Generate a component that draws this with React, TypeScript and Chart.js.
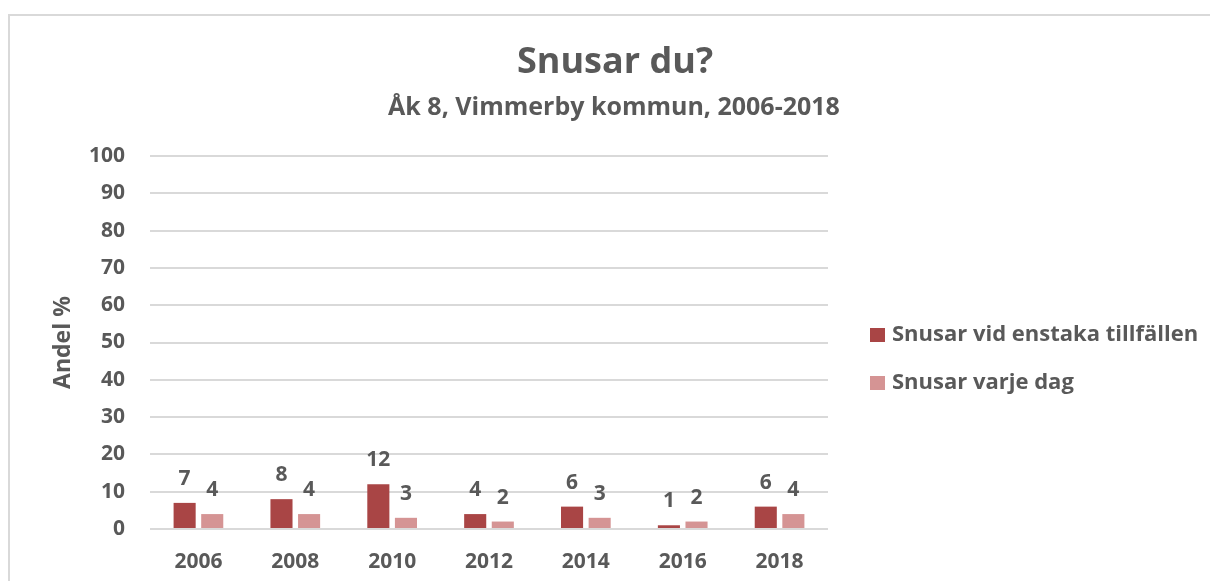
import React, { useEffect, useRef } from "react";
import { Chart, registerables } from "chart.js";

Chart.register(...registerables);

const categories = ["2006", "2008", "2010", "2012", "2014", "2016", "2018"];
const occasional = [7, 8, 12, 4, 6, 1, 6];
const daily = [4, 4, 3, 2, 3, 2, 4];
const seriesNames = ["Snusar vid enstaka tillfällen", "Snusar varje dag"];
const seriesColors = ["#A94545", "#D59494"];
const chartTitle = "Snusar du?";
const chartSubtitle = "Åk 8, Vimmerby kommun, 2006-2018";
const yAxisTitle = "Andel %";
const yMin = 0;
const yMax = 100;
const yStep = 10;

const FONT = "'Open Sans', sans-serif";
const TEXT = "#595959";

const titlePlugin = {
  id: "customTitles",
  afterDraw(chart: any) {
    const ctx = chart.ctx;
    ctx.save();
    ctx.fillStyle = TEXT;
    ctx.textAlign = "center";
    ctx.textBaseline = "alphabetic";
    ctx.font = `bold 36px ${FONT}`;
    ctx.fillText(chartTitle, 615, 73);
    ctx.font = `bold 25px ${FONT}`;
    ctx.fillText(chartSubtitle, 614, 115);
    ctx.restore();
  },
};

const dataLabelPlugin = {
  id: "dataLabels",
  afterDatasetsDraw(chart: any) {
    const ctx = chart.ctx;
    ctx.save();
    ctx.font = `bold 21px ${FONT}`;
    ctx.fillStyle = TEXT;
    ctx.textAlign = "center";
    ctx.textBaseline = "middle";
    chart.data.datasets.forEach((ds: any, i: number) => {
      const meta = chart.getDatasetMeta(i);
      meta.data.forEach((bar: any, j: number) => {
        ctx.fillText(String(ds.data[j]), bar.x, bar.y - 24);
      });
    });
    ctx.restore();
  },
};

const legendPlugin = {
  id: "customLegend",
  afterDraw(chart: any) {
    const ctx = chart.ctx;
    ctx.save();
    ctx.font = `bold 22px ${FONT}`;
    ctx.textBaseline = "middle";
    ctx.textAlign = "left";
    const rows = [335, 383];
    chart.data.datasets.forEach((ds: any, i: number) => {
      const y = rows[i];
      ctx.fillStyle = ds.backgroundColor;
      ctx.fillRect(870, y - 7, 15, 14);
      ctx.fillStyle = TEXT;
      ctx.fillText(ds.label, 892, y);
    });
    ctx.restore();
  },
};

export default function App() {
  const ref = useRef<HTMLCanvasElement>(null);

  useEffect(() => {
    if (!ref.current) return;
    Chart.defaults.font.family = FONT;
    Chart.defaults.color = TEXT;
    const chart = new Chart(ref.current, {
      type: "bar",
      data: {
        labels: categories,
        datasets: [
          {
            label: seriesNames[0],
            data: occasional,
            backgroundColor: seriesColors[0],
            categoryPercentage: 0.57,
            barPercentage: 0.8,
          },
          {
            label: seriesNames[1],
            data: daily,
            backgroundColor: seriesColors[1],
            categoryPercentage: 0.57,
            barPercentage: 0.8,
          },
        ],
      },
      options: {
        animation: false,
        responsive: false,
        maintainAspectRatio: false,
        layout: { padding: { left: 45, right: 382, top: 156, bottom: 0 } },
        plugins: {
          legend: { display: false },
          tooltip: { enabled: false },
          title: { display: false },
          subtitle: { display: false },
        },
        scales: {
          x: {
            grid: { display: false, drawTicks: false },
            border: { display: false },
            ticks: {
              color: TEXT,
              font: { size: 21, weight: "bold", family: FONT },
              padding: 20,
            },
            afterFit: (scale: any) => {
              scale.height = 52;
            },
          },
          y: {
            min: yMin,
            max: yMax,
            grid: { color: "#d9d9d9", lineWidth: 2, drawTicks: false },
            border: { display: false },
            ticks: {
              stepSize: yStep,
              color: TEXT,
              font: { size: 21, weight: "bold", family: FONT },
              padding: 25,
            },
            title: {
              display: true,
              text: yAxisTitle,
              color: TEXT,
              font: { size: 23, weight: "bold", family: FONT },
              padding: { top: 5, bottom: 10 },
            },
            afterFit: (scale: any) => {
              scale.width = 105;
            },
          },
        },
      },
      plugins: [dataLabelPlugin, legendPlugin, titlePlugin],
    });
    return () => chart.destroy();
  }, []);

  return (
    <div style={{ position: "fixed", left: 0, top: 0, width: 1210, height: 581, background: "#fff", overflow: "hidden" }}>
      <div
        style={{
          position: "absolute",
          left: 8,
          top: 14,
          width: 1230,
          height: 600,
          border: "2px solid #d9d9d9",
        }}
      />
      <canvas ref={ref} width={1210} height={581} style={{ position: "absolute", left: 0, top: 0 }} />
    </div>
  );
}
